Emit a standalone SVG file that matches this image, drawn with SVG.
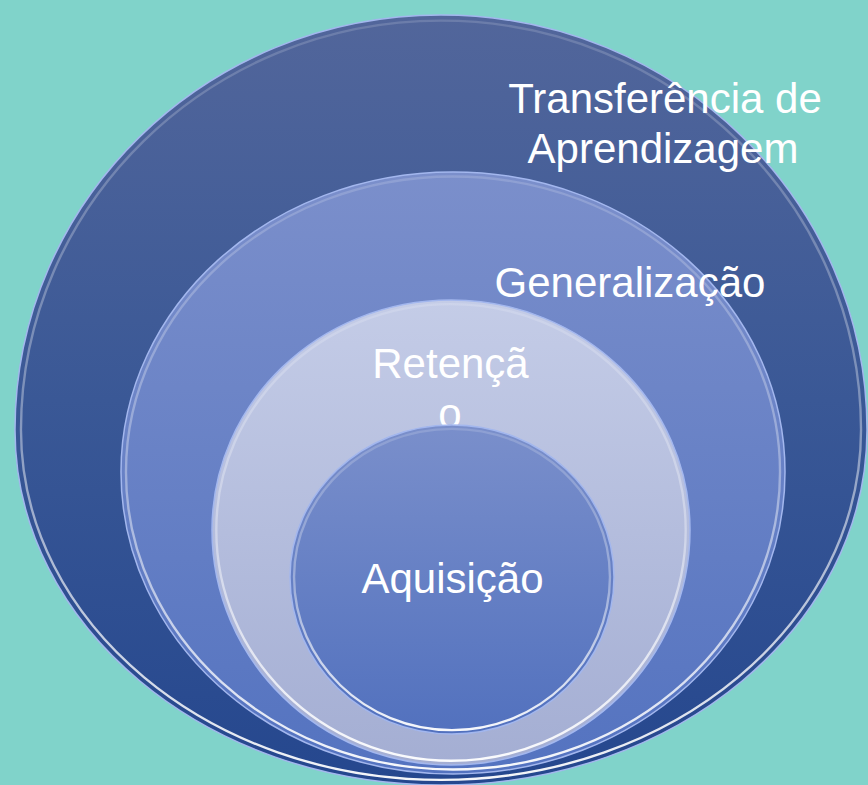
<svg xmlns="http://www.w3.org/2000/svg" width="868" height="785" viewBox="0 0 868 785">
  <defs>
    <linearGradient id="gOuter" x1="0" y1="0" x2="0" y2="1">
      <stop offset="0" stop-color="#52669B"/>
      <stop offset="0.5" stop-color="#3A5896"/>
      <stop offset="1" stop-color="#25478E"/>
    </linearGradient>
    <linearGradient id="gSecond" x1="0" y1="0" x2="0" y2="1">
      <stop offset="0" stop-color="#7B8FCB"/>
      <stop offset="1" stop-color="#5473C0"/>
    </linearGradient>
    <linearGradient id="gThird" x1="0" y1="0" x2="0" y2="1">
      <stop offset="0" stop-color="#C4CCE7"/>
      <stop offset="1" stop-color="#A4AED3"/>
    </linearGradient>
    <linearGradient id="gInner" x1="0" y1="0" x2="0" y2="1">
      <stop offset="0" stop-color="#7A8FCB"/>
      <stop offset="1" stop-color="#5271BE"/>
    </linearGradient>
    <linearGradient id="gRim" x1="0" y1="0" x2="0" y2="1">
      <stop offset="0" stop-color="#FFFFFF" stop-opacity="0.15"/>
      <stop offset="0.5" stop-color="#FFFFFF" stop-opacity="0.35"/>
      <stop offset="1" stop-color="#FFFFFF" stop-opacity="0.95"/>
    </linearGradient>
  </defs>
  <style>
    .edge { fill: none; stroke: #A3B7EE; stroke-width: 1.5; }
    .rim { fill: none; stroke: url(#gRim); stroke-width: 2.4; }
    .lbl { fill: #FFFFFF; font-family: "Liberation Sans", Arial, sans-serif; font-size: 42px; text-anchor: middle; }
  </style>

  <rect x="0" y="0" width="868" height="785" fill="#80D3CA"/>

  <g id="node-transferencia">
    <path fill="url(#gOuter)" d="M15,430 C15,201 206,15 441,15 C676,15 867,201 867,430 C867,626 676,785 441,785 C206,785 15,626 15,430Z"/>
    <path class="edge" d="M15,430 C15,201 206,15 441,15 C676,15 867,201 867,430 C867,626 676,785 441,785 C206,785 15,626 15,430Z"/>
    <path class="rim" transform="translate(441,420) scale(0.986) translate(-441,-420)" d="M15,430 C15,201 206,15 441,15 C676,15 867,201 867,430 C867,626 676,785 441,785 C206,785 15,626 15,430Z"/>
    <text class="lbl" x="665" y="112.5">Transferência de</text>
    <text class="lbl" x="663" y="162.5">Aprendizagem</text>
  </g>

  <g id="node-generalizacao">
    <path fill="url(#gSecond)" d="M121,472 C121,306.4 269.7,172 453,172 C636.3,172 785,306.4 785,472 C785,638.7 636.3,774 453,774 C269.7,774 121,638.7 121,472Z"/>
    <path class="edge" d="M121,472 C121,306.4 269.7,172 453,172 C636.3,172 785,306.4 785,472 C785,638.7 636.3,774 453,774 C269.7,774 121,638.7 121,472Z"/>
    <path class="rim" transform="translate(453,472) scale(0.985) translate(-453,-472)" d="M121,472 C121,306.4 269.7,172 453,172 C636.3,172 785,306.4 785,472 C785,638.7 636.3,774 453,774 C269.7,774 121,638.7 121,472Z"/>
    <text class="lbl" x="630" y="297">Generalização</text>
  </g>

  <g id="node-retencao">
    <path fill="url(#gThird)" d="M212,530 C212,403 319.1,300 451,300 C582.9,300 690,403 690,530 C690,659.7 582.9,765 451,765 C319.1,765 212,659.7 212,530Z"/>
    <path class="edge" d="M212,530 C212,403 319.1,300 451,300 C582.9,300 690,403 690,530 C690,659.7 582.9,765 451,765 C319.1,765 212,659.7 212,530Z"/>
    <path class="rim" transform="translate(451,530) scale(0.982) translate(-451,-530)" d="M212,530 C212,403 319.1,300 451,300 C582.9,300 690,403 690,530 C690,659.7 582.9,765 451,765 C319.1,765 212,659.7 212,530Z"/>
    <text class="lbl" x="450.5" y="377.5">Retençã</text>
    <text class="lbl" x="450" y="427.5">o</text>
  </g>

  <g id="node-aquisicao">
    <path fill="url(#gInner)" d="M290,577 C290,493.1 362.6,425 452,425 C541.4,425 614,493.1 614,577 C614,663.7 541.4,734 452,734 C362.6,734 290,663.7 290,577Z"/>
    <path class="edge" d="M290,577 C290,493.1 362.6,425 452,425 C541.4,425 614,493.1 614,577 C614,663.7 541.4,734 452,734 C362.6,734 290,663.7 290,577Z"/>
    <path class="rim" transform="translate(452,577) scale(0.975) translate(-452,-577)" d="M290,577 C290,493.1 362.6,425 452,425 C541.4,425 614,493.1 614,577 C614,663.7 541.4,734 452,734 C362.6,734 290,663.7 290,577Z"/>
    <text class="lbl" x="452.5" y="592.5">Aquisição</text>
  </g>

  <g id="connectors"/>
</svg>
